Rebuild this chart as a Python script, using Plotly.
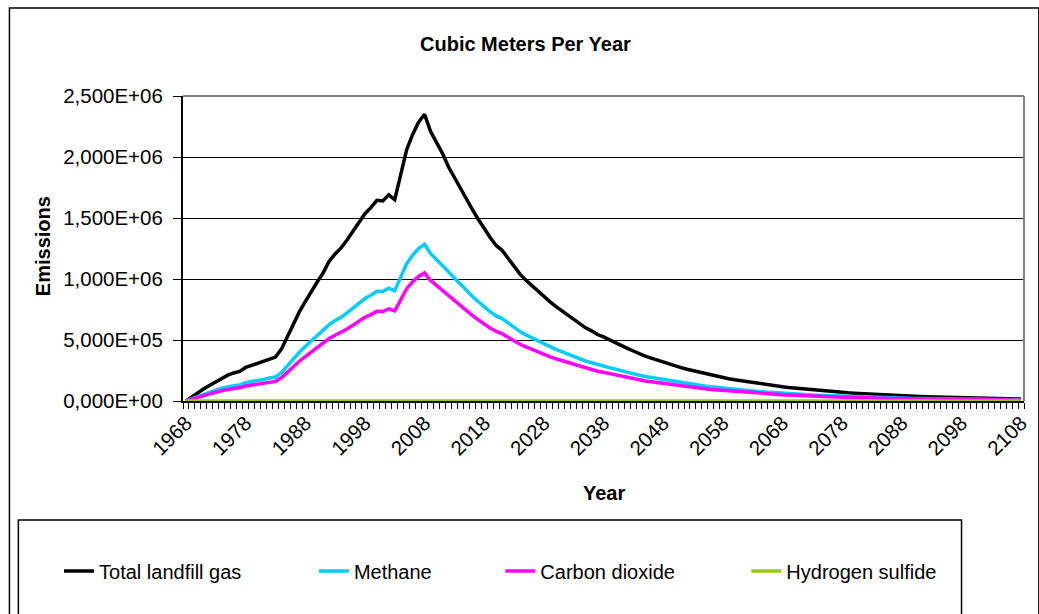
import plotly.graph_objects as go

years = list(range(1968, 2109))

total = [
    0, 35e3, 68e3, 100e3, 130e3, 160e3, 190e3, 212e3, 230e3, 242e3,
    275e3, 292e3, 305e3, 322e3, 345e3, 360e3, 425e3, 530e3, 640e3, 730e3,
    815e3, 900e3, 975e3, 1050e3, 1145e3, 1205e3, 1255e3, 1320e3, 1390e3, 1470e3,
    1535e3, 1585e3, 1645e3, 1640e3, 1690e3, 1650e3, 1860e3, 2060e3, 2185e3, 2285e3,
    2350e3, 2210e3, 2120e3, 2030e3, 1920e3, 1830e3, 1740e3, 1650e3, 1570e3, 1490e3,
    1410e3, 1340e3, 1275e3, 1235e3, 1170e3, 1100e3, 1040e3, 990e3, 945e3, 905e3,
    860e3, 815e3, 775e3, 740e3, 705e3, 665e3, 630e3, 600e3, 575e3, 545e3,
    525e3, 500e3, 475e3, 455e3, 432e3, 410e3, 385e3, 368e3, 352e3, 335e3,
    318e3, 302e3, 287e3, 273e3, 260e3, 248e3, 236e3, 224e3, 213e3, 203e3,
    193e3, 183e3, 174e3, 166e3, 158e3, 150e3, 143e3, 136e3, 129e3, 123e3,
    117e3, 111e3, 106e3, 100e3, 95e3, 90e3, 86e3, 82e3, 78e3, 74e3,
    70e3, 67e3, 64e3, 61e3, 58e3, 55e3, 52e3, 50e3, 47e3, 45e3,
    43e3, 41e3, 39e3, 37e3, 35e3, 34e3, 32e3, 30e3, 29e3, 27e3,
    26e3, 25e3, 24e3, 22e3, 21e3, 20e3, 19e3, 18e3, 17e3, 17e3,
    16e3,
]

methane = [
    0, 19e3, 37e3, 55e3, 71e3, 88e3, 104e3, 116e3, 126e3, 132e3,
    150e3, 160e3, 167e3, 176e3, 189e3, 197e3, 232e3, 290e3, 350e3, 399e3,
    446e3, 492e3, 533e3, 574e3, 626e3, 659e3, 686e3, 722e3, 760e3, 804e3,
    840e3, 867e3, 900e3, 897e3, 924e3, 903e3, 1017e3, 1127e3, 1195e3, 1250e3,
    1285e3, 1209e3, 1160e3, 1110e3, 1050e3, 1001e3, 952e3, 903e3, 859e3, 815e3,
    771e3, 733e3, 697e3, 676e3, 640e3, 602e3, 569e3, 542e3, 517e3, 495e3,
    470e3, 446e3, 424e3, 405e3, 386e3, 364e3, 345e3, 328e3, 315e3, 298e3,
    287e3, 274e3, 260e3, 249e3, 236e3, 224e3, 211e3, 201e3, 193e3, 183e3,
    174e3, 165e3, 157e3, 149e3, 142e3, 136e3, 129e3, 123e3, 117e3, 111e3,
    106e3, 100e3, 95e3, 91e3, 86e3, 82e3, 78e3, 74e3, 71e3, 67e3,
    64e3, 61e3, 58e3, 55e3, 52e3, 49e3, 47e3, 45e3, 43e3, 40e3,
    38e3, 37e3, 35e3, 33e3, 32e3, 30e3, 28e3, 27e3, 26e3, 25e3,
    24e3, 22e3, 21e3, 20e3, 19e3, 19e3, 18e3, 16e3, 16e3, 15e3,
    14e3, 14e3, 13e3, 12e3, 11e3, 11e3, 10e3, 10e3, 9e3, 9e3,
    9e3,
]

carbon_dioxide = [
    0, 16e3, 30e3, 45e3, 58e3, 72e3, 85e3, 95e3, 103e3, 108e3,
    123e3, 131e3, 136e3, 144e3, 154e3, 161e3, 190e3, 237e3, 286e3, 326e3,
    364e3, 402e3, 436e3, 469e3, 512e3, 539e3, 561e3, 590e3, 621e3, 657e3,
    686e3, 708e3, 735e3, 733e3, 755e3, 738e3, 831e3, 921e3, 977e3, 1021e3,
    1050e3, 988e3, 948e3, 907e3, 858e3, 818e3, 778e3, 738e3, 702e3, 666e3,
    630e3, 599e3, 570e3, 552e3, 523e3, 492e3, 465e3, 443e3, 422e3, 405e3,
    384e3, 364e3, 346e3, 331e3, 315e3, 297e3, 282e3, 268e3, 257e3, 244e3,
    235e3, 224e3, 212e3, 203e3, 193e3, 183e3, 172e3, 164e3, 157e3, 150e3,
    142e3, 135e3, 128e3, 122e3, 116e3, 111e3, 105e3, 100e3, 95e3, 91e3,
    86e3, 82e3, 78e3, 74e3, 71e3, 67e3, 64e3, 61e3, 58e3, 55e3,
    52e3, 50e3, 47e3, 45e3, 42e3, 40e3, 38e3, 37e3, 35e3, 33e3,
    31e3, 30e3, 29e3, 27e3, 26e3, 25e3, 23e3, 22e3, 21e3, 20e3,
    19e3, 18e3, 17e3, 17e3, 16e3, 15e3, 14e3, 13e3, 13e3, 12e3,
    12e3, 11e3, 11e3, 10e3, 9e3, 9e3, 8e3, 8e3, 8e3, 8e3,
    7e3,
]

hydrogen_sulfide = [
    0, 1, 2, 4, 5, 6, 7, 8, 8, 9,
    10, 11, 11, 12, 12, 13, 15, 19, 23, 26,
    29, 32, 35, 38, 41, 43, 45, 48, 50, 53,
    55, 57, 59, 59, 61, 59, 67, 74, 79, 82,
    85, 80, 76, 73, 69, 66, 63, 59, 57, 54,
    51, 48, 46, 44, 42, 40, 37, 36, 34, 33,
    31, 29, 28, 27, 25, 24, 23, 22, 21, 20,
    19, 18, 17, 16, 16, 15, 14, 13, 13, 12,
    11, 11, 10, 10, 9, 9, 8, 8, 8, 7,
    7, 7, 6, 6, 6, 5, 5, 5, 5, 4,
    4, 4, 4, 4, 3, 3, 3, 3, 3, 3,
    3, 2, 2, 2, 2, 2, 2, 2, 2, 2,
    2, 1, 1, 1, 1, 1, 1, 1, 1, 1,
    1, 1, 1, 1, 1, 1, 1, 1, 1, 1,
    1,
]

series_names = ["Total landfill gas", "Methane", "Carbon dioxide", "Hydrogen sulfide"]
series_colors = ["#000000", "#00CCFF", "#FF00FF", "#99CC00"]
series_values = [total, methane, carbon_dioxide, hydrogen_sulfide]

y_tickvals = [0, 5e5, 1e6, 1.5e6, 2e6, 2.5e6]
y_ticktext = ["0,000E+00", "5,000E+05", "1,000E+06", "1,500E+06", "2,000E+06", "2,500E+06"]

FONT = "Liberation Sans, Arial, sans-serif"
W, H = 1039, 614
L, R, T, B = 183, 8, 96, 213
PW, PH = W - L - R, H - T - B


def px_x(px):
    return (px - L) / PW


def px_y(py):
    return (H - B - py) / PH


fig = go.Figure()
legend_ids = ["legend", "legend2", "legend3", "legend4"]
legend_text_x = [100, 357, 545, 793]
for name, color, vals, lid in zip(series_names, series_colors, series_values, legend_ids):
    fig.add_trace(go.Scatter(
        x=years, y=vals, mode="lines", name=name,
        line=dict(color=color, width=3.5),
        legend=lid, hoverinfo="skip",
    ))

layout_legends = {}
for lid, tx in zip(legend_ids, legend_text_x):
    layout_legends[lid] = dict(
        orientation="h", x=px_x(tx - 42), xanchor="left",
        y=px_y(571), yanchor="middle",
        bgcolor="rgba(0,0,0,0)", borderwidth=0,
        font=dict(family=FONT, size=20, color="black"),
        itemwidth=30,
    )

fig.update_layout(
    width=W, height=H,
    margin=dict(l=L, r=R, t=T, b=B, pad=0),
    paper_bgcolor="white", plot_bgcolor="white",
    showlegend=True,
    font=dict(family=FONT, size=20, color="black"),
    **layout_legends,
)

fig.update_xaxes(
    range=[1967.5, 2108.5],
    tickmode="linear", tick0=1968, dtick=10,
    ticks="", tickangle=-45,
    tickfont=dict(family=FONT, size=20.5, color="black"),
    showgrid=False, zeroline=False,
    showline=True, linecolor="black", linewidth=2,
    minor=dict(ticks="outside", tick0=1967.5, dtick=1, ticklen=6,
               tickcolor="black", tickwidth=1, showgrid=False),
)

fig.update_yaxes(
    range=[0, 2.5e6],
    tickmode="array", tickvals=y_tickvals, ticktext=y_ticktext,
    ticks="outside", ticklen=8, tickcolor="black", tickwidth=1,
    ticklabelstandoff=6,
    tickfont=dict(family=FONT, size=20.5, color="black"),
    showgrid=True, gridcolor="black", gridwidth=1,
    zeroline=False,
    showline=True, linecolor="black", linewidth=2,
)

shapes = [
    dict(type="line", xref="paper", yref="paper", x0=0, x1=1, y0=1, y1=1,
         line=dict(color="#808080", width=2), layer="above"),
    dict(type="line", xref="paper", yref="paper", x0=1, x1=1, y0=0, y1=1,
         line=dict(color="#808080", width=2), layer="above"),
    dict(type="rect", xref="paper", yref="paper",
         x0=px_x(8), x1=px_x(1046), y0=px_y(640), y1=px_y(8),
         line=dict(color="black", width=1.5), fillcolor="rgba(0,0,0,0)", layer="below"),
    dict(type="rect", xref="paper", yref="paper",
         x0=px_x(17), x1=px_x(968), y0=px_y(640), y1=px_y(520),
         line=dict(color="black", width=1.5), fillcolor="rgba(0,0,0,0)", layer="below"),
]
fig.update_layout(shapes=shapes)

annotations = [
    dict(text="<b>Cubic Meters Per Year</b>", x=px_x(528), y=px_y(44),
         xref="paper", yref="paper", showarrow=False,
         xanchor="center", yanchor="middle",
         font=dict(family=FONT, size=20, color="black")),
    dict(text="<b>Emissions</b>", x=px_x(42), y=px_y(246),
         xref="paper", yref="paper", showarrow=False, textangle=-90,
         xanchor="center", yanchor="middle",
         font=dict(family=FONT, size=20, color="black")),
    dict(text="<b>Year</b>", x=px_x(608), y=px_y(493),
         xref="paper", yref="paper", showarrow=False,
         xanchor="center", yanchor="middle",
         font=dict(family=FONT, size=20, color="black")),
]
fig.update_layout(annotations=annotations)

fig.write_html("out.html")
